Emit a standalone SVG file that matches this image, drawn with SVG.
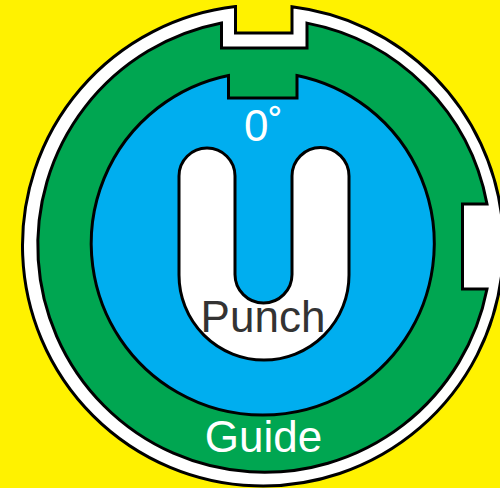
<svg xmlns="http://www.w3.org/2000/svg" width="500" height="488" viewBox="0 0 500 488">
<style>
.s{stroke:#000;stroke-width:3;stroke-linejoin:miter}
text{font-family:"Liberation Sans",Arial,sans-serif;font-size:44px}
</style>
<rect width="500" height="488" fill="#fff200"/>
<g id="outer-ring">
<path class="s" fill="#fff" d="M235.500 6.600 A240.500 240.500 0 1 0 502 272.300 L502 218.700 A240.500 240.500 0 0 0 292 6.800 L292 33 L235.500 33 Z"/>
</g>
<g id="guide">
<path class="s" fill="#00a651" d="M221.500 23 A226.700 226.700 0 1 0 487 289 L462.500 289 L462.500 204 L487 204 A226.700 226.700 0 0 0 307 23.100 L307 48 L221.500 48 Z"/>
<text x="263.500" y="452" fill="#fff" text-anchor="middle">Guide</text>
</g>
<g id="punch-body">
<path class="s" fill="#00aeef" d="M228.500 75.500 A171.500 171.500 0 1 0 297 75.500 L297 98 L228.500 98 Z"/>
<path class="s" fill="#fff" d="M179 176 A28 28 0 0 1 235 176 L235 274.500 A28.500 28.500 0 0 0 292 274.500 L292 176 A28.500 28.500 0 0 1 349 176 L349 275 A85 85 0 0 1 179 275 Z"/>
<text x="244" y="140.500" fill="#fff">0˚</text>
<text x="263" y="332" fill="#333" text-anchor="middle">Punch</text>
</g>
<g id="connectors"></g>
</svg>
